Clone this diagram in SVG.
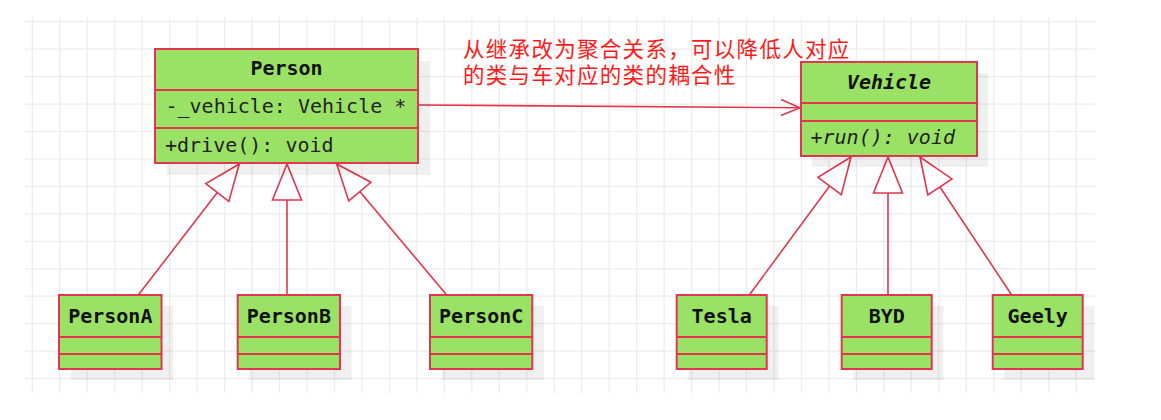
<svg xmlns="http://www.w3.org/2000/svg" width="1161" height="420" viewBox="0 0 1161 420">
<style>
.box{fill:#9ae265;stroke:#e3354e;stroke-width:2}
.sep{stroke:#e3354e;stroke-width:2}
.shadow{fill:#000;fill-opacity:0.06}
.t{font-family:"DejaVu Sans Mono","Liberation Mono",monospace;font-size:20px;fill:#222}
.b{font-weight:bold;fill:#111}
.i{font-style:italic}
.c{text-anchor:middle}
.conn{stroke:#e3354e;stroke-width:1.6;fill:none}
.note{font-family:"Noto Sans CJK SC","Noto Sans",sans-serif;font-size:21.5px;letter-spacing:1.3px;fill:#ff1a1a}
</style>
<defs>
<marker id="tri" markerUnits="userSpaceOnUse" viewBox="-40 -18 44 36" markerWidth="44" markerHeight="36" refX="0" refY="0" orient="auto" style="overflow:visible">
<path d="M0,0 L-36,-14.5 L-36,14.5 Z" fill="#fff" stroke="#e3354e" stroke-width="1.6" stroke-linejoin="miter"/>
</marker>
<marker id="open" markerUnits="userSpaceOnUse" viewBox="-22 -10 24 20" markerWidth="24" markerHeight="20" refX="0" refY="0" orient="auto" style="overflow:visible">
<path d="M-19,-8 L0,0 L-19,8" fill="none" stroke="#e3354e" stroke-width="1.6"/>
</marker>
</defs>
<rect width="1161" height="420" fill="#fff"/>
<g id="grid" stroke="#ececec" stroke-width="1.2">
<path d="M32.3,18V393M59.8,18V393M87.2,18V393M114.7,18V393M142.2,18V393M169.6,18V393M197.1,18V393M224.6,18V393M252.1,18V393M279.5,18V393M307,18V393M334.5,18V393M361.9,18V393M389.4,18V393M416.9,18V393M444.4,18V393M471.8,18V393M499.3,18V393M526.8,18V393M554.2,18V393M581.7,18V393M609.2,18V393M636.6,18V393M664.1,18V393M691.6,18V393M719.1,18V393M746.5,18V393M774,18V393M801.5,18V393M828.9,18V393M856.4,18V393M883.9,18V393M911.3,18V393M938.8,18V393M966.3,18V393M993.8,18V393M1021.2,18V393M1048.7,18V393M1076.2,18V393"/>
<path d="M25,21.7H1095M25,49.2H1095M25,76.6H1095M25,104.1H1095M25,131.5H1095M25,159H1095M25,186.4H1095M25,213.9H1095M25,241.3H1095M25,268.8H1095M25,296.2H1095M25,323.7H1095M25,351.1H1095M25,378.6H1095"/>
</g>
<g id="connectors">
<line class="conn" x1="418" y1="105" x2="800" y2="107.7" marker-end="url(#open)"/>
<line class="conn" x1="138.3" y1="295" x2="239.3" y2="164" marker-end="url(#tri)"/>
<line class="conn" x1="287" y1="295" x2="287" y2="164" marker-end="url(#tri)"/>
<line class="conn" x1="446.7" y1="295" x2="336.7" y2="164" marker-end="url(#tri)"/>
<line class="conn" x1="749.3" y1="295" x2="851" y2="157" marker-end="url(#tri)"/>
<line class="conn" x1="888" y1="295" x2="888" y2="157" marker-end="url(#tri)"/>
<line class="conn" x1="1011.7" y1="295" x2="920" y2="157" marker-end="url(#tri)"/>
</g>
<g id="note">
<text class="note" x="463" y="56.5">从继承改为聚合关系，可以降低人对应</text>
<text class="note" x="463" y="82.5">的类与车对应的类的耦合性</text>
</g>
<g id="Person">
<rect class="shadow" x="167" y="61" width="263" height="114"/>
<rect class="box" x="155" y="49" width="263" height="114"/>
<line class="sep" x1="155" y1="90" x2="418" y2="90"/>
<line class="sep" x1="155" y1="128" x2="418" y2="128"/>
<text class="t b c" x="286.5" y="75">Person</text>
<text class="t" x="165.5" y="113">-_vehicle: Vehicle *</text>
<text class="t" x="165" y="151.5">+drive(): void</text>
</g>
<g id="Vehicle">
<rect class="shadow" x="812" y="73" width="176" height="94"/>
<rect class="box" x="801" y="62" width="176" height="94"/>
<line class="sep" x1="801" y1="103" x2="977" y2="103"/>
<line class="sep" x1="801" y1="121" x2="977" y2="121"/>
<text class="t b i c" x="889" y="88.5">Vehicle</text>
<text class="t i" x="810.5" y="144">+run(): void</text>
</g>
<g id="PersonA">
<rect class="shadow" x="71" y="306" width="102" height="74"/>
<rect class="box" x="59" y="295" width="102.5" height="74"/>
<line class="sep" x1="59" y1="337" x2="161.5" y2="337"/>
<line class="sep" x1="59" y1="354" x2="161.5" y2="354"/>
<text class="t b c" x="110.3" y="322.7">PersonA</text>
</g>
<g id="PersonB">
<rect class="shadow" x="249.5" y="306" width="102" height="74"/>
<rect class="box" x="237.7" y="295" width="102.3" height="74"/>
<line class="sep" x1="237.7" y1="337" x2="340" y2="337"/>
<line class="sep" x1="237.7" y1="354" x2="340" y2="354"/>
<text class="t b c" x="288.8" y="322.7">PersonB</text>
</g>
<g id="PersonC">
<rect class="shadow" x="442" y="306" width="102" height="74"/>
<rect class="box" x="430" y="295" width="102.3" height="74"/>
<line class="sep" x1="430" y1="337" x2="532.3" y2="337"/>
<line class="sep" x1="430" y1="354" x2="532.3" y2="354"/>
<text class="t b c" x="481.2" y="322.7">PersonC</text>
</g>
<g id="Tesla">
<rect class="shadow" x="688.5" y="306" width="90" height="74"/>
<rect class="box" x="676.7" y="295" width="90" height="74"/>
<line class="sep" x1="676.7" y1="337" x2="766.7" y2="337"/>
<line class="sep" x1="676.7" y1="354" x2="766.7" y2="354"/>
<text class="t b c" x="721.7" y="322.7">Tesla</text>
</g>
<g id="BYD">
<rect class="shadow" x="853.5" y="306" width="90" height="74"/>
<rect class="box" x="841.7" y="295" width="90" height="74"/>
<line class="sep" x1="841.7" y1="337" x2="931.7" y2="337"/>
<line class="sep" x1="841.7" y1="354" x2="931.7" y2="354"/>
<text class="t b c" x="886.7" y="322.7">BYD</text>
</g>
<g id="Geely">
<rect class="shadow" x="1004.5" y="306" width="90" height="74"/>
<rect class="box" x="992.7" y="295" width="90" height="74"/>
<line class="sep" x1="992.7" y1="337" x2="1082.7" y2="337"/>
<line class="sep" x1="992.7" y1="354" x2="1082.7" y2="354"/>
<text class="t b c" x="1037.7" y="322.7">Geely</text>
</g>
</svg>
